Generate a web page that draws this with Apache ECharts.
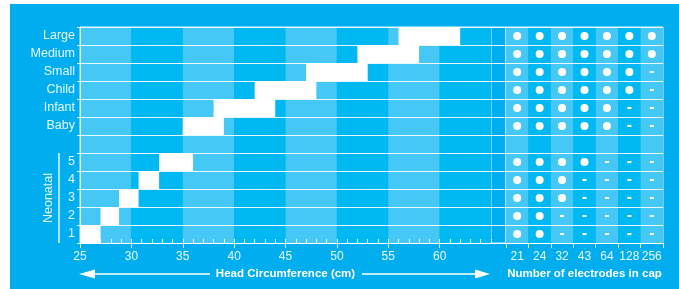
<!DOCTYPE html>
<html><head><meta charset="utf-8">
<script src="https://cdn.jsdelivr.net/npm/echarts@6/dist/echarts.min.js"></script>
<style>html,body{margin:0;padding:0;background:#fff}#c{width:679px;height:289px}</style>
</head><body><div id="c"></div>
<script>
// rows from bottom to top
const rows = ['1','2','3','4','5','','Baby','Infant','Child','Small','Medium','Large'];
// head circumference ranges (cm)
const rangeStart = [25, 27, 28.8, 30.7, 32.7, null, 35, 38, 42, 47, 52, 56];
const rangeEnd   = [27, 28.8, 30.7, 32.7, 36, null, 39, 44, 48, 53, 58, 62];
// electrode counts (columns)
const electrodes = ['21','24','32','43','64','128','256'];
// number of electrode options available per row (from 21 upward)
const capsAvailable = [2, 2, 3, 3, 4, null, 5, 5, 6, 6, 7, 7];
const xTicks = [25, 30, 35, 40, 45, 50, 55, 60];

const BG = '#00AEEF', LIGHT = '#45C8F5', DARK = '#00B9F2';
const LINE = 'rgba(255,255,255,0.88)', TXT = 'rgba(255,255,255,0.9)';
const FONT = '"Liberation Sans", Arial, Helvetica, sans-serif';

const rangeData = [];
rows.forEach((r, i) => { if (rangeStart[i] != null) rangeData.push([rangeStart[i], rangeEnd[i], i]); });
const dots = [], dashes = [];
rows.forEach((r, i) => {
  if (capsAvailable[i] == null) return;
  electrodes.forEach((e, j) => { (j < capsAvailable[i] ? dots : dashes).push([j, i]); });
});

const chart = echarts.init(document.getElementById('c'), null, {renderer: 'canvas'});
const yBase = {type: 'category', data: rows, boundaryGap: true, z: 1,
  splitLine: {show: true, interval: 0, lineStyle: {color: LINE, width: 1}}};
chart.setOption({
  animation: false,
  backgroundColor: '#fff',
  textStyle: {fontFamily: FONT},
  grid: [
    {left: 80, top: 27, width: 411, height: 216, show: true, borderColor: LINE, borderWidth: 1, backgroundColor: 'transparent', containLabel: false},
    {left: 491, top: 27, width: 15, height: 216, show: true, borderColor: LINE, borderWidth: 1, backgroundColor: BG},
    {left: 506, top: 27, width: 157, height: 216, show: true, borderColor: LINE, borderWidth: 1, backgroundColor: 'transparent'}
  ],
  xAxis: [
    {gridIndex: 0, type: 'value', min: 25, max: 65, interval: 1, z: 1,
      axisLine: {show: false}, axisTick: {show: true, inside: true, length: 4, lineStyle: {color: LINE}},
      axisLabel: {show: false}, splitLine: {show: false}},
    {gridIndex: 0, type: 'value', min: 25, max: 65, interval: 5, position: 'bottom', z: 0,
      axisLine: {show: true, lineStyle: {color: LINE, width: 1}},
      axisTick: {show: true, length: 5, lineStyle: {color: LINE}},
      axisLabel: {color: TXT, fontSize: 12, margin: 8, fontFamily: FONT, showMaxLabel: false,
        formatter: v => xTicks.indexOf(v) >= 0 ? String(v) : ''},
      splitLine: {show: false},
      splitArea: {show: true, areaStyle: {color: [LIGHT, DARK]}},
      name: 'Head Circumference (cm)', nameLocation: 'middle', nameGap: 25,
      nameTextStyle: {color: '#fff', fontWeight: 'bold', fontSize: 11.5, fontFamily: FONT}},
    {gridIndex: 1, type: 'value', min: 0, max: 1, show: false},
    {gridIndex: 2, type: 'category', data: electrodes, boundaryGap: true, z: 0,
      axisLine: {show: true, lineStyle: {color: LINE}},
      axisTick: {show: true, length: 5, interval: 0, lineStyle: {color: LINE}},
      axisLabel: {color: TXT, fontSize: 12, margin: 8, interval: 0, fontFamily: FONT},
      splitLine: {show: false},
      splitArea: {show: true, interval: 0, areaStyle: {color: [LIGHT, DARK]}},
      name: 'Number of electrodes in cap', nameLocation: 'middle', nameGap: 25,
      nameTextStyle: {color: '#fff', fontWeight: 'bold', fontSize: 11.5, fontFamily: FONT}}
  ],
  yAxis: [
    Object.assign({gridIndex: 0,
      axisLine: {show: true, lineStyle: {color: LINE}},
      axisTick: {show: true, length: 3, interval: 0, lineStyle: {color: LINE}},
      axisLabel: {color: TXT, fontSize: 12.5, margin: 5, interval: 0, fontFamily: FONT}}, yBase),
    Object.assign({gridIndex: 1, axisLine: {show: false}, axisTick: {show: false}, axisLabel: {show: false}}, yBase),
    Object.assign({gridIndex: 2, axisLine: {show: false}, axisTick: {show: false}, axisLabel: {show: false}}, yBase)
  ],
  series: [
    {type: 'custom', xAxisIndex: 1, yAxisIndex: 0, data: rangeData, encode: {x: [0, 1], y: 2}, z: 2,
      renderItem: function (params, api) {
        const s = api.coord([api.value(0), api.value(2)]);
        const e = api.coord([api.value(1), api.value(2)]);
        const h = api.size([0, 1])[1];
        return {type: 'rect', shape: {x: s[0], y: s[1] - h / 2, width: e[0] - s[0], height: h},
          style: {fill: '#fff'}};
      }},
    {type: 'scatter', xAxisIndex: 3, yAxisIndex: 2, data: dots, symbol: 'circle', symbolSize: 8, z: 3,
      itemStyle: {color: '#fff', opacity: 1}, silent: true},
    {type: 'scatter', xAxisIndex: 3, yAxisIndex: 2, data: dashes, symbol: 'rect', symbolSize: [4, 2], z: 3,
      itemStyle: {color: '#fff', opacity: 1}, silent: true}
  ],
  graphic: [
    {type: 'rect', z: -10, shape: {x: 10, y: 4, width: 669, height: 285}, style: {fill: BG}},
    {type: 'text', x: 49, y: 198, rotation: Math.PI / 2,
      style: {text: 'Neonatal', fill: TXT, font: '12.5px ' + FONT, align: 'center', verticalAlign: 'middle'}},
    {type: 'line', shape: {x1: 59, y1: 153, x2: 59, y2: 243}, style: {stroke: LINE, lineWidth: 1.5}},
    {type: 'line', shape: {x1: 94, y1: 274, x2: 210, y2: 274}, style: {stroke: '#fff', lineWidth: 1.5}},
    {type: 'polygon', shape: {points: [[79, 274], [95, 269.5], [95, 278.5]]}, style: {fill: '#fff'}},
    {type: 'line', shape: {x1: 362, y1: 274, x2: 476, y2: 274}, style: {stroke: '#fff', lineWidth: 1.5}},
    {type: 'polygon', shape: {points: [[490, 274], [475, 269.5], [475, 278.5]]}, style: {fill: '#fff'}}
  ]
});
</script></body></html>
